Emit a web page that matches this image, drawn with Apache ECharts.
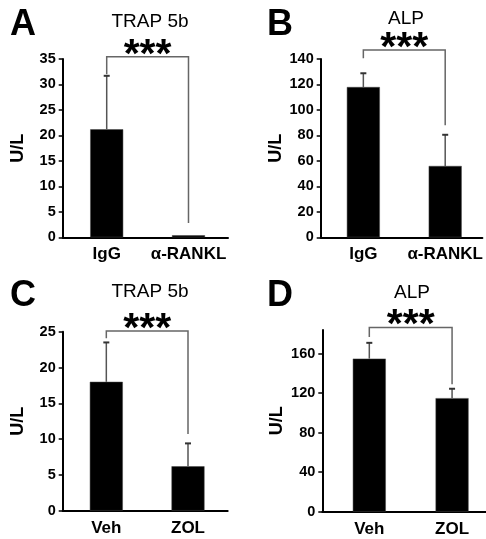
<!DOCTYPE html>
<html>
<head>
<meta charset="utf-8">
<script src="https://cdn.jsdelivr.net/npm/echarts@6/dist/echarts.min.js"></script>
<style>
  html, body { margin: 0; padding: 0; background: #fff; }
  #chart { width: 486px; height: 539px; }
</style>
</head>
<body>
<div id="chart"></div>
<script>
// categories
const catsRankl = ['IgG', 'α-RANKL']
const catsZol = ['Veh', 'ZOL']

// means and (upper) SD, U/L
const trapRankl = [21.2, 0.4]
const trapRanklErr = [10.5, 0]
const alpRankl = [118, 56]
const alpRanklErr = [10.8, 24.5]
const trapZol = [18.0, 6.2]
const trapZolErr = [5.5, 3.2]
const alpZol = [155, 115]
const alpZolErr = [16, 9.5]

// significance brackets: [top, left leg end, right leg end]
const bracketA = [35.45, 32, 2.8]
const bracketB = [147, 140.5, 88]
const bracketC = [25.1, 24.1, 10.7]
const bracketD = [186.5, 177, 129]

// y tick labels
const ticksA = [0, 5, 10, 15, 20, 25, 30, 35]
const ticksB = [0, 20, 40, 60, 80, 100, 120, 140]
const ticksC = [0, 5, 10, 15, 20, 25]
const ticksD = [0, 40, 80, 120, 160]

const FONT = "'Liberation Sans', Arial, sans-serif"
const chart = echarts.init(document.getElementById('chart'))

const errRender = (params, api) => {
  const x = api.value(0), m = api.value(1), e = api.value(2)
  if (!e) return
  const p0 = api.coord([x, m])
  const p1 = api.coord([x, m + e])
  return {
    type: 'group',
    children: [
      { type: 'line', shape: { x1: p0[0], y1: p0[1], x2: p1[0], y2: p1[1] }, style: { stroke: '#555', lineWidth: 1.5 } },
      { type: 'line', shape: { x1: p1[0] - 3, y1: p1[1], x2: p1[0] + 3, y2: p1[1] }, style: { stroke: '#333', lineWidth: 2 } }
    ]
  }
}

const bracketRender = (params, api) => {
  const top = api.value(1), l = api.value(2), r = api.value(3)
  const a = api.coord([0, l]), b = api.coord([0, top])
  const c = api.coord([1, top]), d = api.coord([1, r])
  return {
    type: 'group',
    children: [
      { type: 'polyline', shape: { points: [a, b, c, d] }, style: { stroke: '#666', lineWidth: 1.5, fill: null } },
      {
        type: 'text', x: (b[0] + c[0]) / 2, y: b[1] + 19,
        style: { text: '***', font: 'bold 41px ' + FONT, fill: '#000', textAlign: 'center', textVerticalAlign: 'bottom' }
      }
    ]
  }
}

const grids = [
  { left: 62.7, top: 59, width: 165.3, height: 178.3 },
  { left: 320.7, top: 59, width: 165.3, height: 178.3 },
  { left: 62.7, top: 331.7, width: 165, height: 179 },
  { left: 322.3, top: 330, width: 163.7, height: 181.7 }
]

const panels = [
  { cats: catsRankl, vals: trapRankl, err: trapRanklErr, br: bracketA, ticks: ticksA, xmin: -0.538, xmax: 1.483, ymax: 35, title: 'TRAP 5b' },
  { cats: catsRankl, vals: alpRankl, err: alpRanklErr, br: bracketB, ticks: ticksB, xmin: -0.521, xmax: 1.454, ymax: 140, title: 'ALP' },
  { cats: catsZol, vals: trapZol, err: trapZolErr, br: bracketC, ticks: ticksC, xmin: -0.534, xmax: 1.486, ymax: 25, title: 'TRAP 5b' },
  { cats: catsZol, vals: alpZol, err: alpZolErr, br: bracketD, ticks: ticksD, xmin: -0.568, xmax: 1.41, ymax: 184, title: 'ALP' }
]

const xAxes = panels.map((p, i) => ({
  type: 'value', gridIndex: i, min: p.xmin, max: p.xmax,
  splitLine: { show: false },
  axisLine: { onZero: false, lineStyle: { color: '#000', width: 2 } },
  axisTick: { show: false },
  axisLabel: {
    customValues: [0, 1],
    formatter: v => p.cats[Math.round(v)],
    color: '#000', fontFamily: FONT, fontWeight: 'bold', fontSize: 17, margin: 9
  }
}))

const yAxes = panels.map((p, i) => ({
  type: 'value', gridIndex: i, min: 0, max: p.ymax,
  name: 'U/L', nameLocation: 'middle', nameGap: 36, nameRotate: 90,
  nameTextStyle: { color: '#000', fontFamily: FONT, fontWeight: 'bold', fontSize: 18 },
  splitLine: { show: false },
  axisLine: { onZero: false, lineStyle: { color: '#000', width: 2 } },
  axisTick: { customValues: p.ticks, length: 4, lineStyle: { color: '#000', width: 1.5 } },
  axisLabel: { customValues: p.ticks, color: '#000', fontFamily: FONT, fontWeight: 'bold', fontSize: 14.5, margin: 7 }
}))

const series = []
panels.forEach((p, i) => {
  series.push({
    type: 'bar', xAxisIndex: i, yAxisIndex: i, barWidth: 33,
    itemStyle: { color: '#000', borderColor: '#444', borderWidth: 0.5 },
    data: p.vals.map((v, k) => [k, v])
  })
  series.push({
    type: 'custom', xAxisIndex: i, yAxisIndex: i, renderItem: errRender, clip: false, z: 3,
    data: p.vals.map((v, k) => [k, v, p.err[k]])
  })
  series.push({
    type: 'custom', xAxisIndex: i, yAxisIndex: i, renderItem: bracketRender, clip: false, z: 4,
    data: [[0.5, p.br[0], p.br[1], p.br[2]]]
  })
})

const titlePos = [[150, 22], [406, 19], [150, 292], [412, 293]]
const letterPos = [[10, 25], [267, 25], [10, 296], [267, 296]]
const letters = ['A', 'B', 'C', 'D']

const graphic = []
panels.forEach((p, i) => {
  graphic.push({
    type: 'text', x: titlePos[i][0], y: titlePos[i][1],
    style: { text: p.title, font: '19px ' + FONT, fill: '#000', textAlign: 'center', textVerticalAlign: 'middle' }
  })
  graphic.push({
    type: 'text', x: letterPos[i][0], y: letterPos[i][1],
    style: { text: letters[i], font: 'bold 36px ' + FONT, fill: '#000', textAlign: 'left', textVerticalAlign: 'middle' }
  })
})

chart.setOption({
  animation: false,
  grid: grids,
  xAxis: xAxes,
  yAxis: yAxes,
  series,
  graphic
})

window.addEventListener('resize', () => chart.resize())
</script>
</body>
</html>
